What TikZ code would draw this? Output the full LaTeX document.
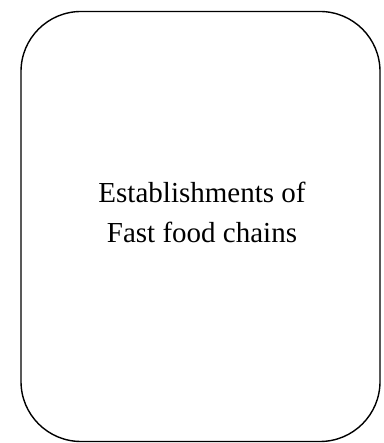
\documentclass[tikz,border=0pt]{standalone}
\usepackage{fontspec}
\setmainfont{Liberation Serif}
\usepackage{tikz}

\begin{document}
\begin{tikzpicture}[x=1pt,y=1pt]
\useasboundingbox (0,0) rectangle (383,443);
% Rahmen
\node[draw, line width=1.4pt, rounded corners=60pt, minimum width=359pt, minimum height=430pt, inner sep=0pt] (box) at (200.5,216.5) {};

% Beschriftung
\node[align=center, font=\fontsize{29}{40}\selectfont] (label) at (202,231) {Establishments of\\Fast food chains};
\end{tikzpicture}
\end{document}
